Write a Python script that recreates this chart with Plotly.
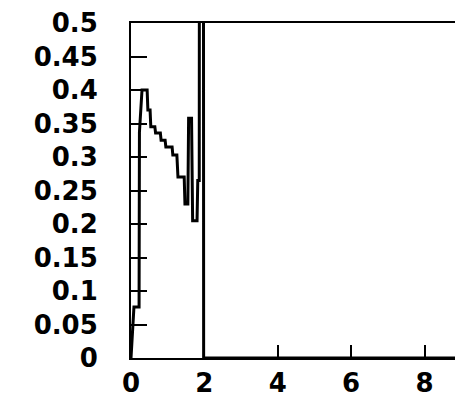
import plotly.graph_objects as go

# Series values
x_values = [0.0, 0.06, 0.08, 0.22, 0.23, 0.30, 0.44, 0.46, 0.52, 0.54, 0.65, 0.67,
            0.80, 0.82, 0.93, 0.95, 1.12, 1.14, 1.25, 1.28, 1.45, 1.47, 1.55, 1.57,
            1.65, 1.68, 1.80, 1.82, 1.86, 1.87, 1.97, 1.98, 8.9]
y_values = [0.0, 0.076, 0.076, 0.076, 0.337, 0.40, 0.40, 0.37, 0.37, 0.345, 0.345, 0.336,
            0.336, 0.325, 0.325, 0.315, 0.315, 0.303, 0.303, 0.27, 0.27, 0.23, 0.23, 0.358,
            0.358, 0.205, 0.205, 0.265, 0.265, 1.2, 1.2, 0.0, 0.0]

y_tick_vals = [0, 0.05, 0.1, 0.15, 0.2, 0.25, 0.3, 0.35, 0.4, 0.45, 0.5]
y_tick_text = ["0", "0.05", "0.1", "0.15", "0.2", "0.25", "0.3", "0.35", "0.4", "0.45", "0.5"]
x_tick_vals = [0, 2, 4, 6, 8]
x_tick_text = ["0", "2", "4", "6", "8"]

fig = go.Figure()
fig.add_trace(go.Scatter(x=x_values, y=y_values, mode="lines",
                         line=dict(color="black", width=3), showlegend=False,
                         hoverinfo="skip"))

font = dict(family="DejaVu Sans", size=26, color="black", weight="bold")

fig.update_layout(
    width=455, height=397,
    margin=dict(l=131, r=0, t=23, b=39, pad=0),
    paper_bgcolor="white", plot_bgcolor="white",
    font=font,
)
fig.update_xaxes(range=[0, 8.83], showgrid=False, zeroline=False,
                 showline=True, linecolor="black", linewidth=2, mirror=True,
                 ticks="inside", ticklen=13, tickwidth=2, tickcolor="black",
                 tickvals=x_tick_vals, ticktext=x_tick_text, tickfont=font,
                 ticklabelstandoff=1)
fig.update_yaxes(range=[0, 0.5], showgrid=False, zeroline=False,
                 showline=True, linecolor="black", linewidth=2, mirror=False,
                 ticks="inside", ticklen=16, tickwidth=2, tickcolor="black",
                 tickvals=y_tick_vals, ticktext=y_tick_text, tickfont=font,
                 ticklabelstandoff=26)

fig.write_html("out.html", config={"displayModeBar": False},
               post_script="document.body.style.margin='0px';document.body.style.overflow='hidden';")
